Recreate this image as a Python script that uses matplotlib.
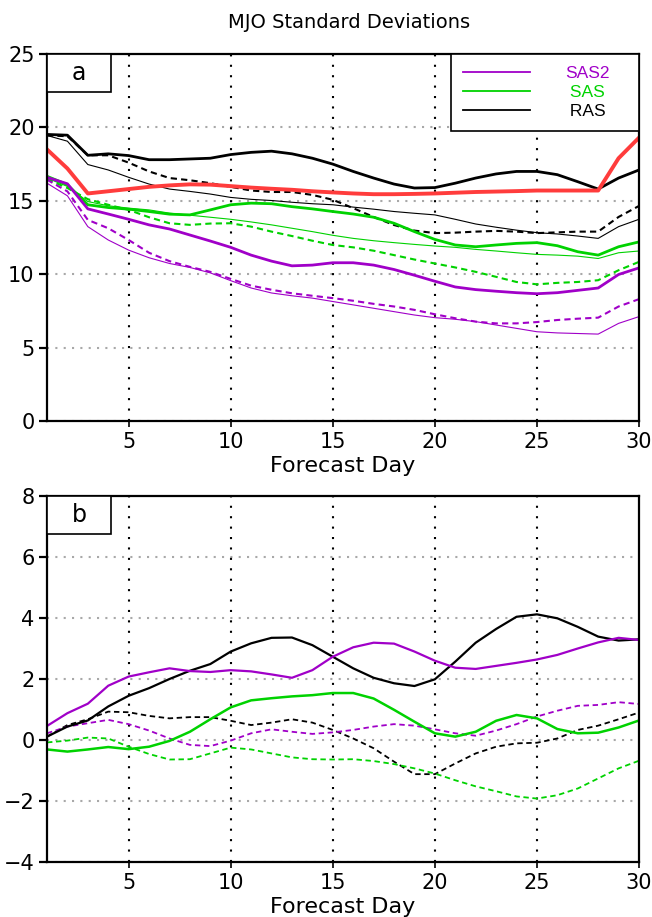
import numpy as np
import matplotlib
matplotlib.use("Agg")
import matplotlib.pyplot as plt
from matplotlib.lines import Line2D
from matplotlib.patches import Rectangle

# === data ===
days = np.arange(1, 31)

# panel a: standard deviations
obs = [18.5, 17.2, 15.5, 15.65, 15.8, 15.95, 16.05, 16.12, 16.1, 16.0,
       15.9, 15.82, 15.75, 15.65, 15.57, 15.5, 15.45, 15.45, 15.47, 15.5,
       15.55, 15.6, 15.63, 15.66, 15.7, 15.7, 15.7, 15.7, 17.9, 19.3]

ras_thick = [19.52, 19.47, 18.1, 18.2, 18.08, 17.8, 17.8, 17.85, 17.9, 18.15,
             18.3, 18.38, 18.2, 17.9, 17.5, 17.0, 16.55, 16.14, 15.87, 15.9,
             16.2, 16.55, 16.83, 17.0, 17.0, 16.78, 16.3, 15.8, 16.55, 17.1]
ras_dash = [19.45, 19.4, 18.1, 18.1, 17.6, 17.0, 16.55, 16.4, 16.2, 15.95,
            15.7, 15.6, 15.6, 15.4, 15.07, 14.5, 13.9, 13.35, 12.97, 12.8,
            12.83, 12.9, 12.95, 12.9, 12.8, 12.85, 12.9, 12.9, 13.9, 14.65]
ras_thin = [19.45, 19.06, 17.47, 17.1, 16.6, 16.14, 15.8, 15.64, 15.46, 15.23,
            15.1, 15.02, 14.9, 14.8, 14.73, 14.57, 14.43, 14.27, 14.15, 14.04,
            13.74, 13.42, 13.2, 13.0, 12.83, 12.74, 12.6, 12.44, 13.24, 13.74]

sas_thick = [16.67, 16.1, 14.73, 14.54, 14.43, 14.27, 14.09, 14.04, 14.38, 14.73,
             14.84, 14.8, 14.6, 14.45, 14.27, 14.1, 13.88, 13.47, 12.9, 12.37,
             11.99, 11.87, 11.99, 12.1, 12.15, 11.94, 11.53, 11.3, 11.87, 12.2]
sas_dash = [16.48, 15.87, 15.11, 14.73, 14.38, 13.88, 13.47, 13.36, 13.45, 13.47,
            13.24, 12.9, 12.6, 12.28, 11.99, 11.83, 11.6, 11.3, 11.0, 10.73,
            10.46, 10.16, 9.82, 9.47, 9.31, 9.41, 9.47, 9.59, 10.27, 10.84]
sas_thin = [16.55, 15.98, 14.95, 14.66, 14.5, 14.38, 14.16, 14.02, 13.88, 13.74,
            13.56, 13.36, 13.13, 12.9, 12.65, 12.44, 12.28, 12.15, 12.03, 11.92,
            11.83, 11.69, 11.58, 11.46, 11.35, 11.3, 11.23, 11.07, 11.46, 11.58]

sas2_thick = [16.6, 16.16, 14.45, 14.1, 13.74, 13.36, 13.08, 12.67, 12.26, 11.83,
              11.3, 10.89, 10.57, 10.62, 10.78, 10.78, 10.62, 10.32, 9.93, 9.52,
              9.13, 8.95, 8.84, 8.74, 8.67, 8.74, 8.9, 9.06, 9.98, 10.43]
sas2_dash = [16.44, 15.64, 13.7, 13.13, 12.33, 11.46, 10.89, 10.5, 10.16, 9.68,
             9.22, 8.94, 8.7, 8.53, 8.37, 8.19, 7.98, 7.8, 7.57, 7.27,
             7.0, 6.77, 6.65, 6.65, 6.74, 6.88, 6.97, 7.04, 7.8, 8.3]
sas2_thin = [16.2, 15.34, 13.24, 12.33, 11.64, 11.12, 10.73, 10.46, 10.09, 9.56,
             9.06, 8.72, 8.53, 8.37, 8.14, 7.91, 7.68, 7.45, 7.22, 7.04,
             6.93, 6.77, 6.54, 6.31, 6.08, 6.0, 5.96, 5.92, 6.65, 7.11]

# panel b: differences
ras_b = [0.11, 0.44, 0.64, 1.1, 1.45, 1.7, 2.0, 2.27, 2.49, 2.9,
         3.17, 3.35, 3.36, 3.11, 2.73, 2.35, 2.04, 1.86, 1.77, 1.99,
         2.57, 3.19, 3.64, 4.04, 4.12, 3.99, 3.71, 3.39, 3.26, 3.3]
ras_b_dash = [0.11, 0.49, 0.68, 0.93, 0.91, 0.79, 0.71, 0.75, 0.75, 0.63,
              0.49, 0.57, 0.68, 0.57, 0.33, 0.05, -0.27, -0.71, -1.12, -1.12,
              -0.77, -0.44, -0.22, -0.11, -0.09, 0.05, 0.33, 0.47, 0.68, 0.9]
sas2_b = [0.46, 0.88, 1.19, 1.78, 2.08, 2.22, 2.35, 2.26, 2.23, 2.29,
          2.25, 2.15, 2.04, 2.29, 2.73, 3.04, 3.19, 3.16, 2.9, 2.6,
          2.37, 2.33, 2.43, 2.53, 2.64, 2.79, 3.0, 3.2, 3.35, 3.28]
sas2_b_dash = [0.22, 0.44, 0.55, 0.66, 0.52, 0.31, 0.05, -0.16, -0.2, -0.02,
               0.22, 0.35, 0.27, 0.2, 0.25, 0.33, 0.44, 0.52, 0.47, 0.35,
               0.22, 0.14, 0.31, 0.52, 0.77, 0.96, 1.12, 1.15, 1.24, 1.18]
sas_b = [-0.31, -0.38, -0.31, -0.23, -0.3, -0.22, -0.03, 0.27, 0.68, 1.07,
         1.3, 1.37, 1.43, 1.47, 1.54, 1.54, 1.36, 0.99, 0.6, 0.22,
         0.11, 0.27, 0.63, 0.82, 0.71, 0.36, 0.22, 0.24, 0.41, 0.64]
sas_b_dash = [-0.08, -0.02, 0.08, 0.05, -0.22, -0.46, -0.64, -0.63, -0.44, -0.25,
              -0.31, -0.44, -0.57, -0.63, -0.64, -0.63, -0.69, -0.79, -0.93, -1.1,
              -1.32, -1.52, -1.68, -1.85, -1.92, -1.81, -1.59, -1.26, -0.93, -0.68]

xticks = [5, 10, 15, 20, 25, 30]
yticks_a = [0, 5, 10, 15, 20, 25]
yticks_b = [-4, -2, 0, 2, 4, 6, 8]
legend_labels = ["SAS2", "SAS", "RAS"]

# === style ===
PURPLE = "#a000c8"
GREEN = "#00d200"
RED = "#ff3c3c"
BLACK = "#000000"
DASH = (0, (3, 2))

plt.rcParams["font.family"] = ["DejaVu Sans"]


def style_axes(ax, yticks, letter):
    ax.set_xlim(1, 30)
    ax.set_ylim(yticks[0], yticks[-1])
    ax.set_xticks(xticks)
    ax.set_yticks(yticks)
    ax.tick_params(axis="y", direction="out", length=6, width=1.6, labelsize=15, pad=3)
    ax.tick_params(axis="x", direction="out", length=4, width=1.2, labelsize=15, pad=4)
    for s in ax.spines.values():
        s.set_linewidth(1.6)
    for y in yticks[1:-1] + [yticks[0]]:
        ax.axhline(y, color="#a8a8a8", lw=1.5, ls=(0, (1, 3)), zorder=0.5)
    for x in xticks[:-1]:
        ax.axvline(x, color="black", lw=1.5, ls=(0, (1, 4)), zorder=0.5)
    ax.set_xlabel("Forecast Day", fontsize=16, labelpad=3)
    # panel letter box
    h = 38 / 367
    w = 64 / 592
    ax.add_patch(Rectangle((0, 1 - h), w, h, transform=ax.transAxes,
                           facecolor="white", edgecolor="black", lw=1.2,
                           zorder=5, clip_on=False))
    ax.text(w / 2, 1 - h / 2, letter, transform=ax.transAxes, ha="center",
            va="center", fontsize=17, zorder=6)


fig = plt.figure(figsize=(6.52, 9.17), dpi=100)
ax1 = fig.add_axes([47 / 652, 1 - 421 / 917, 592 / 652, 367 / 917])
ax2 = fig.add_axes([47 / 652, 1 - 862 / 917, 592 / 652, 366 / 917])

# --- panel a ---
ax1.plot(days, ras_thin, color=BLACK, lw=0.8)
ax1.plot(days, sas_thin, color=GREEN, lw=0.8)
ax1.plot(days, sas2_thin, color=PURPLE, lw=0.8)
ax1.plot(days, ras_dash, color=BLACK, lw=1.5, ls=DASH)
ax1.plot(days, sas_dash, color=GREEN, lw=1.5, ls=DASH)
ax1.plot(days, sas2_dash, color=PURPLE, lw=1.5, ls=DASH)
ax1.plot(days, ras_thick, color=BLACK, lw=2.0)
ax1.plot(days, sas_thick, color=GREEN, lw=2.0)
ax1.plot(days, sas2_thick, color=PURPLE, lw=2.0)
ax1.plot(days, obs, color=RED, lw=2.8)
style_axes(ax1, yticks_a, "a")

# legend box spans the upper-right corner; labels centred on a common axis
handles = [Line2D([], [], color=c, lw=1.3) for c in (PURPLE, GREEN, BLACK)]
widest = max(len(s) for s in legend_labels)
centred = [s if len(s) == widest else " " + s for s in legend_labels]
leg = ax1.legend(handles, centred, loc="upper right",
                 bbox_to_anchor=(404 / 592, 0, 188 / 592, 1), mode="expand",
                 borderaxespad=0, frameon=True, fancybox=False, framealpha=1,
                 edgecolor="black", handlelength=3.85,
                 handletextpad=2.05, labelspacing=0.22, borderpad=0.68,
                 labelcolor=[PURPLE, GREEN, BLACK],
                 prop={"family": "Liberation Sans", "size": 12.5})
leg.get_frame().set_linewidth(1.2)
leg.set_zorder(10)

fig.text(0.535, 0.976, "MJO Standard Deviations", ha="center", va="center", fontsize=14)

# --- panel b ---
ax2.plot(days, ras_b_dash, color=BLACK, lw=1.3, ls=DASH)
ax2.plot(days, sas2_b_dash, color=PURPLE, lw=1.3, ls=DASH)
ax2.plot(days, sas_b_dash, color=GREEN, lw=1.3, ls=DASH)
ax2.plot(days, ras_b, color=BLACK, lw=1.6)
ax2.plot(days, sas2_b, color=PURPLE, lw=1.6)
ax2.plot(days, sas_b, color=GREEN, lw=1.8)
style_axes(ax2, yticks_b, "b")

fig.savefig("out.png", dpi=100)
